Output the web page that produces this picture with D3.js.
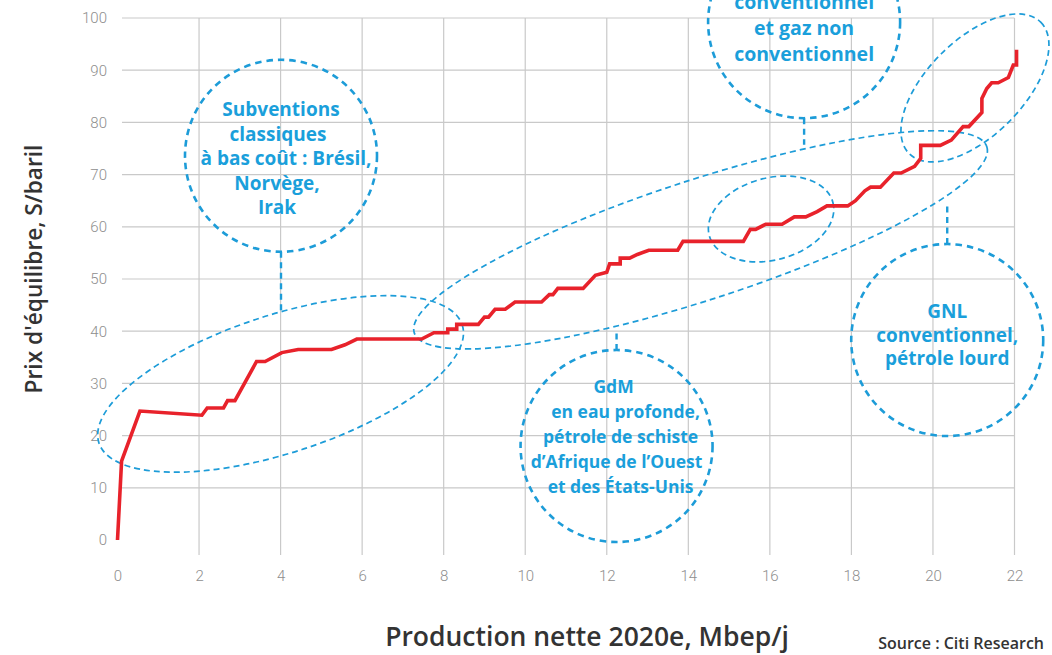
<!DOCTYPE html>
<html><head><meta charset="utf-8">
<script src="https://cdn.jsdelivr.net/npm/d3@7"></script>
<style>
html,body{margin:0;padding:0;background:#fff;}
svg{display:block;}
</style></head>
<body>
<svg id="chart" width="1052" height="655"></svg>
<script>
// ---- data ----
const productionMbep = [0,0.1,0.55,2.07,2.2,2.6,2.7,2.88,3.41,3.62,4.03,4.43,5.25,5.58,5.87,7.46,7.76,8.1,8.1,8.32,8.32,8.85,9.0,9.1,9.26,9.51,9.75,10.4,10.59,10.68,10.8,11.42,11.72,12.0,12.07,12.33,12.33,12.56,12.75,13.03,13.74,13.87,15.35,15.52,15.65,15.9,16.3,16.6,16.88,17.16,17.4,17.91,18.1,18.33,18.47,18.71,19.04,19.22,19.55,19.7,19.7,20.18,20.45,20.74,20.88,21.2,21.2,21.32,21.44,21.6,21.85,21.97,22.05,22.05];
const breakevenPrice = [0,15.1,24.7,23.9,25.3,25.3,26.7,26.7,34.2,34.2,35.9,36.5,36.5,37.4,38.5,38.5,39.7,39.7,40.4,40.4,41.3,41.3,42.7,42.7,44.2,44.2,45.6,45.6,47.0,47.0,48.2,48.2,50.7,51.3,52.9,52.9,54.0,54.0,54.7,55.5,55.5,57.2,57.2,59.5,59.5,60.5,60.5,61.9,61.9,62.9,64.0,64.0,65.0,66.9,67.6,67.6,70.3,70.3,71.6,73.1,75.6,75.6,76.6,79.2,79.2,81.9,84.6,86.5,87.6,87.6,88.6,91.0,91.0,93.9];
const xTicks = [0,2,4,6,8,10,12,14,16,18,20,22];
const yTicks = [0,10,20,30,40,50,60,70,80,90,100];

const xTitle = "Production nette 2020e, Mbep/j";
const yTitle = "Prix d'équilibre, S/baril";
const sourceText = "Source : Citi Research";

// annotation groups (bubble texts + data-space anchors)
const bubbleLabels = [
  ["Subventions","classiques","à bas coût : Brésil,","Norvège,","Irak"],
  ["conventionnel","et gaz non","conventionnel"],
  ["GdM","en eau profonde,","pétrole de schiste","d’Afrique de l’Ouest","et des États-Unis"],
  ["GNL","conventionnel,","pétrole lourd"]
];
const bubbleCenterX = [4.01, 16.84, 12.24, 20.35];
const bubbleCenterY = [73.6, 99.2, 18.0, 38.3];
const connectorEndY = [44.0, 75.7, 40.0, 64.4];
const ellipseCenterX = [4.0, 14.3, 16.03, 21.03];
const ellipseCenterY = [29.9, 57.5, 61.5, 86.6];

// ---- layout ----
const svg = d3.select("#chart");
const x = d3.scaleLinear().domain([0,22]).range([117.5,1014.5]);
const y = d3.scaleLinear().domain([0,100]).range([540,18]);

const gridColor = "#c9c9c9";
const blue = "#1d9cd8";
const textBlue = "#1a9fdb";
const FONT = "'Open Sans'";

// grid
svg.append("g").selectAll("line.h").data(yTicks.filter(d=>d>0)).join("line")
  .attr("x1",122).attr("x2",x(22)).attr("y1",d=>y(d)).attr("y2",d=>y(d))
  .attr("stroke",gridColor).attr("stroke-width",1.2);
svg.append("g").selectAll("line.v").data(xTicks.filter(d=>d>0)).join("line")
  .attr("x1",d=>x(d)).attr("x2",d=>x(d)).attr("y1",y(100)).attr("y2",555)
  .attr("stroke",gridColor).attr("stroke-width",1.2);

// axes (tick labels via d3 axes, domain hidden)
const yAxis = svg.append("g").attr("transform","translate(107,0)")
  .call(d3.axisLeft(y).tickValues(yTicks).tickSize(0).tickPadding(0));
yAxis.select(".domain").remove();
yAxis.selectAll("text").attr("font-family","Roboto").attr("font-weight",300)
  .attr("font-size",15).attr("fill","#8e8e8e");

const xAxis = svg.append("g").attr("transform","translate(0,570)")
  .call(d3.axisBottom(x).tickValues(xTicks).tickSize(0).tickPadding(0));
xAxis.select(".domain").remove();
xAxis.selectAll("text").attr("font-family","Roboto").attr("font-weight",300)
  .attr("font-size",15).attr("fill","#8e8e8e");

// titles
svg.append("text").text(yTitle)
  .attr("transform","translate(42,269) rotate(-90)")
  .attr("text-anchor","middle").attr("font-family",FONT).attr("font-weight",600)
  .attr("font-size",22.7).attr("fill","#333");
svg.append("text").text(xTitle)
  .attr("x",587).attr("y",646).attr("text-anchor","middle")
  .attr("font-family",FONT).attr("font-weight",600).attr("font-size",26.5).attr("fill","#333");
svg.append("text").text(sourceText)
  .attr("x",1044).attr("y",649).attr("text-anchor","end")
  .attr("font-family",FONT).attr("font-weight",600).attr("font-size",16).attr("fill","#333");

// ellipses (thin dashed)
const ellipseShape = [[191,69,-18],[301,60,-18],[64,41,-15],[93,48,-45]];
const annot = svg.append("g");
ellipseShape.forEach((s,i)=>{
  annot.append("ellipse")
    .attr("cx",0).attr("cy",0).attr("rx",s[0]).attr("ry",s[1])
    .attr("transform",`translate(${x(ellipseCenterX[i])},${y(ellipseCenterY[i])}) rotate(${s[2]})`)
    .attr("fill","none").attr("stroke",blue).attr("stroke-width",1.7)
    .attr("stroke-dasharray","6,4");
});

// bubbles
const R = 96;
const textSizes = [19,19.5,17.5,19];
const lineGap = [24.6,26,25.2,23.5];
const firstLineY = [111,4,388,313];
const lineDx = [[0,-3,5,-4,-4],[0,0,0],[-3,9,4,0,4],[0,0,0]];
bubbleLabels.forEach((lines,i)=>{
  const cx = x(bubbleCenterX[i]), cy = y(bubbleCenterY[i]);
  const isUp = cy < y(connectorEndY[i]);
  const edgeY = isUp ? cy + R : cy - R;
  annot.append("line").attr("x1",cx).attr("x2",cx).attr("y1",edgeY).attr("y2",y(connectorEndY[i]))
    .attr("stroke",blue).attr("stroke-width",2.4).attr("stroke-dasharray","6,4.5");
  annot.append("circle").attr("cx",cx).attr("cy",cy).attr("r",R)
    .attr("fill","none").attr("stroke",blue).attr("stroke-width",2.6)
    .attr("stroke-dasharray","6.5,5");
  const t = annot.append("text").attr("text-anchor","middle")
    .attr("font-family",FONT).attr("font-weight",700).attr("font-size",textSizes[i]).attr("fill",textBlue);
  lines.forEach((ln,j)=>{
    t.append("tspan").attr("x",cx + lineDx[i][j]).attr("y",firstLineY[i] + j*lineGap[i])
      .attr("dominant-baseline","middle").text(ln);
  });
});

// curve
const pts = productionMbep.map((d,i)=>[d,breakevenPrice[i]]);
svg.append("path").datum(pts)
  .attr("d",d3.line().x(d=>x(d[0])).y(d=>y(d[1])))
  .attr("fill","none").attr("stroke","#e8222b").attr("stroke-width",3.6)
  .attr("stroke-linejoin","miter");
</script>
</body></html>
